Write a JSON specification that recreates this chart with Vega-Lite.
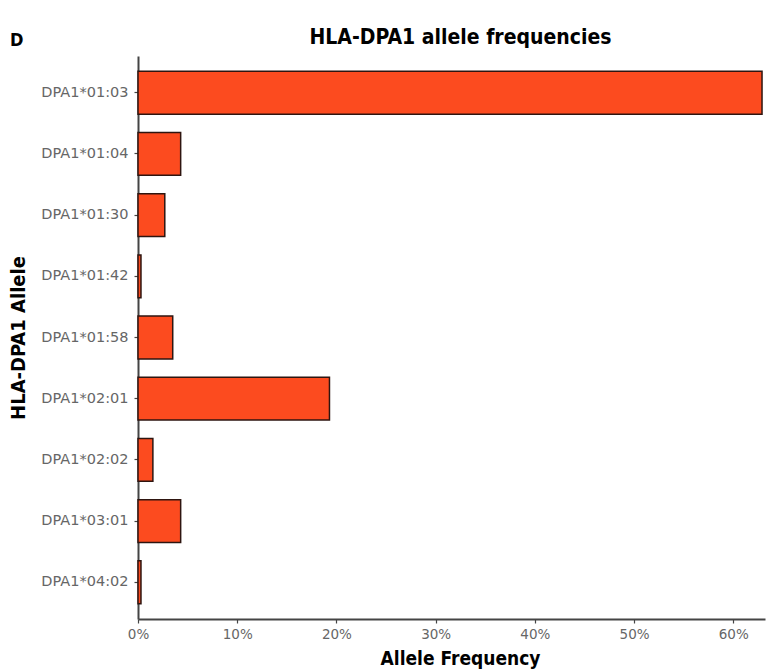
{
  "$schema": "https://vega.github.io/schema/vega-lite/v6.json",
  "width": 627,
  "height": 563,
  "autosize": {"type": "none"},
  "padding": {"left": 138, "top": 56, "right": 13, "bottom": 52},
  "background": "white",
  "data": {
    "values": [
      {"allele": "DPA1*01:03", "freq": 0.629},
      {"allele": "DPA1*01:04", "freq": 0.043},
      {"allele": "DPA1*01:30", "freq": 0.027},
      {"allele": "DPA1*01:42", "freq": 0.003},
      {"allele": "DPA1*01:58", "freq": 0.035},
      {"allele": "DPA1*02:01", "freq": 0.193},
      {"allele": "DPA1*02:02", "freq": 0.015},
      {"allele": "DPA1*03:01", "freq": 0.043},
      {"allele": "DPA1*04:02", "freq": 0.003}
    ]
  },
  "title": {
    "text": "D",
    "anchor": "start",
    "frame": "group",
    "font": "DejaVu Sans Condensed",
    "fontSize": 18,
    "fontWeight": "bold",
    "color": "#000000",
    "baseline": "alphabetic",
    "dx": -128,
    "offset": -38
  },
  "config": {
    "view": {"stroke": null},
    "axis": {"grid": false}
  },
  "resolve": {"axis": {"x": "independent"}},
  "layer": [
    {
      "mark": {"type": "bar", "fill": "#FC4B1F", "stroke": "#2e1510", "strokeWidth": 1.5},
      "encoding": {
        "y": {
          "field": "allele",
          "type": "nominal",
          "sort": null,
          "scale": {"paddingInner": 0.3, "paddingOuter": 0.25},
          "axis": {
            "title": "HLA-DPA1 Allele",
            "titleFont": "DejaVu Sans Condensed",
            "titleFontSize": 20,
            "titleFontWeight": "bold",
            "titleColor": "#000000",
            "titlePadding": 12,
            "labelFont": "DejaVu Sans",
            "labelFontSize": 14.5,
            "labelColor": "#666666",
            "labelPadding": 6,
            "domainColor": "#444444",
            "domainWidth": 2,
            "tickColor": "#444444",
            "tickSize": 4,
            "tickWidth": 1.2
          }
        },
        "x": {
          "field": "freq",
          "type": "quantitative",
          "scale": {"domain": [0, 0.632], "nice": false, "zero": true},
          "axis": {
            "title": "Allele Frequency",
            "format": ".0%",
            "values": [0, 0.1, 0.2, 0.3, 0.4, 0.5, 0.6],
            "titleFont": "DejaVu Sans Condensed",
            "titleFontSize": 19,
            "titleFontWeight": "bold",
            "titleColor": "#000000",
            "titleBaseline": "alphabetic",
            "titleX": 322,
            "titleY": 45,
            "labelFont": "DejaVu Sans",
            "labelFontSize": 13.5,
            "labelColor": "#666666",
            "labelPadding": 4,
            "labelFlush": false,
            "domainColor": "#444444",
            "domainWidth": 2,
            "tickColor": "#444444",
            "tickSize": 4,
            "tickWidth": 1.2
          }
        }
      }
    },
    {
      "mark": {"type": "bar", "opacity": 0},
      "encoding": {
        "y": {"field": "allele", "type": "nominal", "sort": null},
        "x": {
          "field": "freq",
          "type": "quantitative",
          "axis": {
            "orient": "top",
            "title": "HLA-DPA1 allele frequencies",
            "titleFont": "DejaVu Sans Condensed",
            "titleFontSize": 21,
            "titleFontWeight": "bold",
            "titleColor": "#000000",
            "titleBaseline": "alphabetic",
            "titlePadding": 13,
            "titleX": 322,
            "labels": false,
            "ticks": false,
            "domain": false
          }
        }
      }
    }
  ]
}
